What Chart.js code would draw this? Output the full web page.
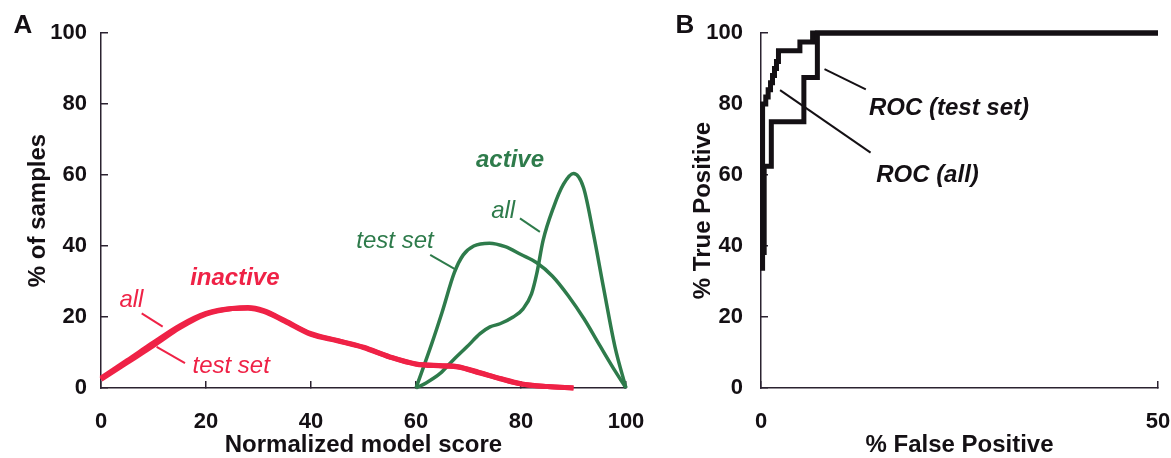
<!DOCTYPE html>
<html>
<head>
<meta charset="utf-8">
<script src="https://cdn.jsdelivr.net/npm/chart.js@4.4.1/dist/chart.umd.min.js"></script>
<style>
  html, body { margin: 0; padding: 0; background: #fff; }
  #wrap { position: relative; width: 1171px; height: 458px; }
  .panel { position: absolute; top: 0; height: 458px; }
  #panelA { left: 0; width: 650px; }
  #panelB { left: 650px; width: 521px; }
</style>
</head>
<body>
<div id="wrap">
  <div class="panel" id="panelA"><canvas id="chartA"></canvas></div>
  <div class="panel" id="panelB"><canvas id="chartB"></canvas></div>
</div>
<script>
// A: score distributions (x = normalized model score, y = % of samples)
const inactiveAllScore  = [0, 5, 10, 15, 20, 25, 28, 31, 35, 40, 45, 50, 55, 60, 65, 68, 72, 76, 80, 85, 90];
const inactiveAllPct    = [2.4, 7.2, 12, 17, 20.8, 22.4, 22.7, 21.8, 19, 15.3, 13.4, 11.5, 8.8, 6.8, 6.3, 6, 4.4, 2.7, 1.2, 0.4, 0];
const inactiveTestScore = [0, 5, 10, 15, 20, 25, 28, 31, 35, 40, 45, 50, 55, 60, 65, 68, 72, 76, 80, 85, 90];
const inactiveTestPct   = [2.8, 7.7, 12.7, 17.5, 21, 22.4, 22.5, 21.6, 18.8, 15.1, 13.3, 11.4, 8.7, 6.7, 6.2, 5.9, 4.3, 2.6, 1.1, 0.4, 0];
const activeAllScore    = [60, 62, 64.6, 67.1, 69.7, 72.2, 74.1, 76, 78.5, 80.4, 82, 83, 84.2, 86.2, 88.1, 90, 91.9, 93.8, 95.7, 97.9, 100];
const activeAllPct      = [0, 1.5, 4.1, 7.9, 11.6, 15.3, 17.2, 18.1, 20, 22.3, 26.5, 32.2, 41.5, 50.9, 57.4, 60.4, 56.5, 43.4, 28.4, 11.6, 0];
const activeTestScore   = [60, 63, 65, 67.3, 69, 71, 74, 77, 80, 83, 86, 89, 92, 95, 98, 100];
const activeTestPct     = [0, 12.5, 21.5, 32.5, 37.5, 40, 40.8, 39.8, 37.6, 35.3, 31.5, 26, 19.5, 12, 4.6, 0];
const scoreTicks = [0, 20, 40, 60, 80, 100];

// B: ROC curves (x = % false positive, y = % true positive)
const rocTestFp = [0.4, 0.4, 1.3, 1.3, 5.4, 5.4, 7.1, 7.1, 50];
const rocTestTp = [37.5, 62.5, 62.5, 75, 75, 87.5, 87.5, 100, 100];
const rocAllFp  = [0.2, 0.2, 0.6, 0.6, 0.9, 0.9, 1.2, 1.2, 1.45, 1.45, 1.7, 1.7, 1.95, 1.95, 2.2, 2.2, 4.9, 4.9, 6.5, 6.5, 50];
const rocAllTp  = [33, 80, 80, 82, 82, 84, 84, 86, 86, 88, 88, 90, 90, 92, 92, 95, 95, 97.5, 97.5, 100, 100];
const fpTicks = [0, 50];
const tpTicks = [0, 20, 40, 60, 80, 100];

const RED = '#ef2246';
const GREEN = '#2e7b4b';
const INK = '#141014';
const AXIS = '#2b2230';
const FONT = "'Liberation Sans', Arial, sans-serif";

const zip = (xs, ys) => xs.map((x, i) => ({x: x, y: ys[i]}));

// text labels and leader lines, placed in data coordinates
const notes = {
  id: 'notes',
  afterDatasetsDraw(chart, args, opts) {
    const ctx = chart.ctx;
    const xs = chart.scales.x, ys = chart.scales.y;
    ctx.save();
    ctx.lineCap = 'butt';
    (opts.lines || []).forEach(l => {
      ctx.strokeStyle = l.color;
      ctx.lineWidth = l.width || 2;
      ctx.beginPath();
      ctx.moveTo(xs.getPixelForValue(l.from[0]), ys.getPixelForValue(l.from[1]));
      ctx.lineTo(xs.getPixelForValue(l.to[0]), ys.getPixelForValue(l.to[1]));
      ctx.stroke();
    });
    (opts.texts || []).forEach(t => {
      ctx.fillStyle = t.color;
      ctx.font = t.font;
      ctx.textAlign = t.align || 'center';
      ctx.textBaseline = 'alphabetic';
      ctx.fillText(t.text, xs.getPixelForValue(t.at[0]), ys.getPixelForValue(t.at[1]));
    });
    if (opts.letter) {
      ctx.fillStyle = INK;
      ctx.font = 'bold 26px ' + FONT;
      ctx.textAlign = 'center';
      ctx.textBaseline = 'middle';
      ctx.fillText(opts.letter.text, opts.letter.x, opts.letter.y);
    }
    ctx.restore();
  }
};

function lineSet(label, pts, color, width) {
  return {
    label: label,
    data: pts,
    borderColor: color,
    borderWidth: width,
    pointRadius: 0,
    fill: false,
    clip: false
  };
}

function axisOpts(min, max, tickValues, title, titlePad, labelPad, size) {
  return {
    type: 'linear',
    min: min,
    max: max,
    afterBuildTicks: s => { s.ticks = tickValues.map(v => ({value: v})); },
    afterFit: s => {
      if (s.isHorizontal()) s.height = size; else s.width = size;
      // keep the plot area fixed; the layout padding already leaves room for labels
      s.paddingLeft = s.paddingRight = s.paddingTop = s.paddingBottom = 0;
    },
    border: {display: true, color: AXIS, width: 1.5},
    grid: {drawOnChartArea: false, drawTicks: true, tickLength: -7, color: AXIS, lineWidth: 1.5},
    ticks: {
      color: INK,
      padding: labelPad,
      maxRotation: 0,
      autoSkip: false,
      font: {family: FONT, size: 22, weight: 'bold'}
    },
    title: {
      display: true,
      text: title,
      color: INK,
      padding: titlePad,
      font: {family: FONT, size: 24, weight: 'bold', lineHeight: 1}
    }
  };
}

const boldIt = 'italic bold 24px ' + FONT;
const plainIt = 'italic 24px ' + FONT;

new Chart(document.getElementById('chartA'), {
  type: 'line',
  data: {
    datasets: [
      lineSet('inactive all', zip(inactiveAllScore, inactiveAllPct), RED, 5),
      lineSet('inactive test set', zip(inactiveTestScore, inactiveTestPct), RED, 5),
      lineSet('active all', zip(activeAllScore, activeAllPct), GREEN, 3.5),
      lineSet('active test set', zip(activeTestScore, activeTestPct), GREEN, 3.5)
    ]
  },
  options: {
    responsive: true,
    maintainAspectRatio: false,
    animation: false,
    devicePixelRatio: 1,
    elements: {line: {tension: 0.4, cubicInterpolationMode: 'monotone'}},
    layout: {autoPadding: false, padding: {top: 33, right: 24, bottom: 0, left: 0}},
    plugins: {
      legend: {display: false},
      tooltip: {enabled: false},
      notes: {
        letter: {text: 'A', x: 23, y: 26},
        texts: [
          {text: 'inactive', at: [25.5, 29], color: RED, font: boldIt},
          {text: 'all', at: [5.8, 22.8], color: RED, font: plainIt},
          {text: 'test set', at: [24.8, 4.2], color: RED, font: plainIt},
          {text: 'active', at: [77.9, 62.3], color: GREEN, font: boldIt},
          {text: 'all', at: [76.6, 47.9], color: GREEN, font: plainIt},
          {text: 'test set', at: [56, 39.4], color: GREEN, font: plainIt}
        ],
        lines: [
          {from: [7.75, 21], to: [11.75, 17.3], color: RED},
          {from: [10.6, 11.6], to: [16, 7], color: RED},
          {from: [79.8, 47.8], to: [83.6, 44], color: GREEN},
          {from: [62.7, 37.5], to: [67.75, 33.2], color: GREEN}
        ]
      }
    },
    scales: {
      x: axisOpts(0, 100, scoreTicks, 'Normalized model score', {top: 0, bottom: 1}, 28, 70),
      y: axisOpts(0, 100, scoreTicks, '% of samples', {top: 26, bottom: 0}, 21, 101)
    }
  },
  plugins: [notes]
});

new Chart(document.getElementById('chartB'), {
  type: 'line',
  data: {
    datasets: [
      lineSet('ROC (test set)', zip(rocTestFp, rocTestTp), INK, 5),
      lineSet('ROC (all)', zip(rocAllFp, rocAllTp), INK, 5)
    ]
  },
  options: {
    responsive: true,
    maintainAspectRatio: false,
    animation: false,
    devicePixelRatio: 1,
    elements: {line: {tension: 0}},
    layout: {autoPadding: false, padding: {top: 33, right: 13, bottom: 0, left: 0}},
    plugins: {
      legend: {display: false},
      tooltip: {enabled: false},
      notes: {
        letter: {text: 'B', x: 35, y: 26},
        texts: [
          {text: 'ROC (test set)', at: [13.6, 76.9], color: INK, font: boldIt, align: 'left'},
          {text: 'ROC (all)', at: [14.5, 58.1], color: INK, font: boldIt, align: 'left'}
        ],
        lines: [
          {from: [8, 89.8], to: [13.2, 84.1], color: INK},
          {from: [2.4, 83.9], to: [13.8, 66.3], color: INK}
        ]
      }
    },
    scales: {
      x: axisOpts(0, 50, fpTicks, '% False Positive', {top: 0, bottom: 1}, 28, 70),
      y: axisOpts(0, 100, tpTicks, '% True Positive', {top: 41, bottom: 0}, 25, 111)
    }
  },
  plugins: [notes]
});
</script>
</body>
</html>
